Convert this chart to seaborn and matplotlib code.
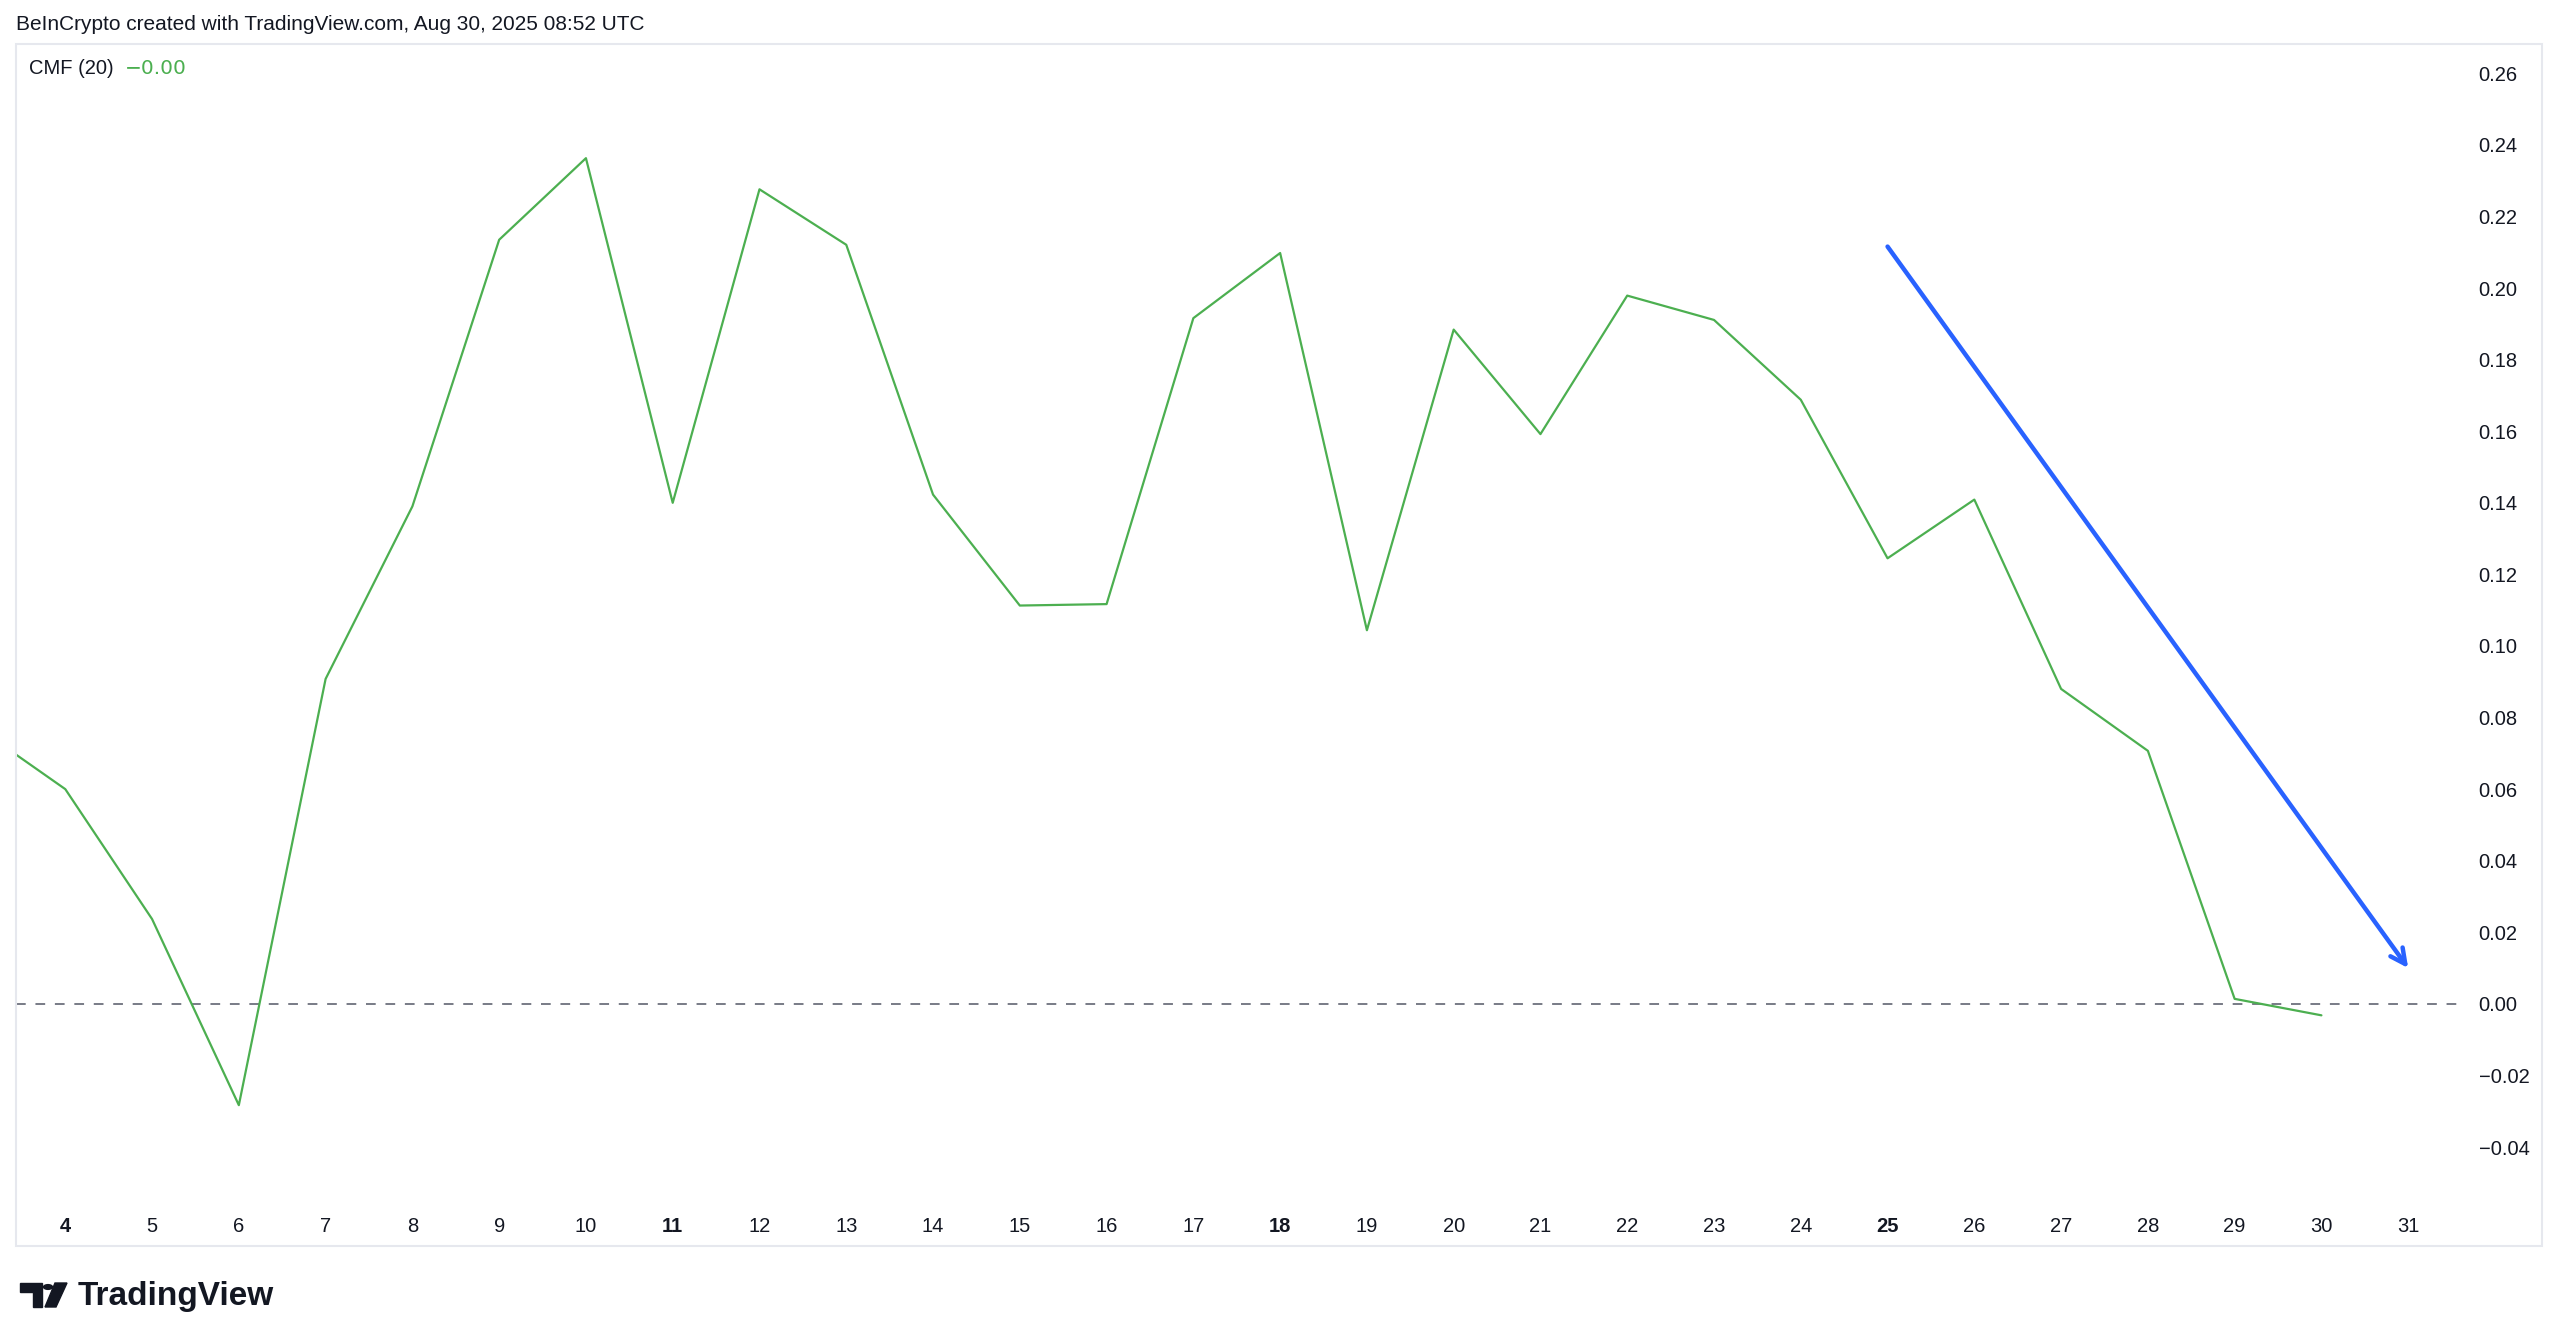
import matplotlib
matplotlib.use("Agg")
import matplotlib.pyplot as plt
import seaborn as sns
import pandas as pd
from matplotlib.patches import Rectangle, Circle, Polygon

# ── Data ────────────────────────────────────────────────────────────
days = [3, 4, 5, 6, 7, 8, 9, 10, 11, 12, 13, 14, 15, 16, 17, 18, 19,
        20, 21, 22, 23, 24, 25, 26, 27, 28, 29, 30]
cmf = [0.077, 0.060, 0.0237, -0.0283, 0.0908, 0.139, 0.2135, 0.2363,
       0.140, 0.2276, 0.2121, 0.1423, 0.1113, 0.1117, 0.1916, 0.2098,
       0.1044, 0.1884, 0.1592, 0.1979, 0.1911, 0.1688, 0.1245, 0.1409,
       0.0880, 0.0707, 0.0014, -0.0032]
tick_days = list(range(4, 32))
bold_days = [4, 11, 18, 25]
y_ticks = [-0.04, -0.02, 0.00, 0.02, 0.04, 0.06, 0.08, 0.10, 0.12,
           0.14, 0.16, 0.18, 0.20, 0.22, 0.24, 0.26]
arrow_start = (25, 0.2116)
arrow_end = (31, 0.010)

df = pd.DataFrame({"day": days, "cmf": cmf})

sns.set_theme(style="white")
plt.rcParams["font.family"] = ["Liberation Sans", "DejaVu Sans"]

W, H = 2560, 1342
fig = plt.figure(figsize=(W / 100, H / 100), dpi=100)
fig.patch.set_facecolor("white")

# plot area in pixel coordinates of the reference
left, right, top, bottom = 16, 2462, 44, 1200
ax = fig.add_axes([left / W, 1 - bottom / H, (right - left) / W, (bottom - top) / H])
ax.set_facecolor("white")
ax.grid(False)

ax.axhline(0, color="#787b86", lw=1.4, ls=(0, (5, 5)), zorder=1)

sns.lineplot(data=df, x="day", y="cmf", ax=ax, color="#4CAF50", lw=1.6, zorder=3)

ax.annotate("", xy=arrow_end, xytext=arrow_start,
            arrowprops=dict(arrowstyle="->,head_length=0.9,head_width=0.45",
                            color="#2962FF", lw=3.2, shrinkA=0, shrinkB=0),
            zorder=4)

ax.set_xlim(3.432, 31.62)
ax.set_ylim(-0.0548, 0.2682)
for s in ax.spines.values():
    s.set_visible(False)

ax.set_xlabel("")
ax.set_ylabel("")
ax.yaxis.tick_right()
ax.set_yticks(y_ticks)
ax.set_yticklabels([("\u2212%.2f" % -v) if v < 0 else "%.2f" % v for v in y_ticks],
                   fontsize=14.5, color="#131722")
ax.tick_params(axis="y", length=0, pad=12)
ax.set_xticks(tick_days)
ax.set_xticklabels([str(d) for d in tick_days], fontsize=14.5, color="#131722")
ax.tick_params(axis="x", length=0, pad=12)
for lab in ax.get_xticklabels():
    if int(lab.get_text()) in bold_days:
        lab.set_fontweight("bold")

# outer frame
fig.add_artist(Rectangle((16 / W, 1 - 1246 / H), (2542 - 16) / W, (1246 - 44) / H,
                         transform=fig.transFigure, fill=False,
                         edgecolor="#e6e8ee", lw=1.5))

# header texts
fig.text(16 / W, 1 - 25 / H, "BeInCrypto created with TradingView.com, Aug 30, 2025 08:52 UTC",
         fontsize=15, color="#131722", va="center", ha="left")
fig.text(29 / W, 1 - 69 / H, "CMF (20)", fontsize=14.5, color="#131722",
         va="center", ha="left")
fig.text(125 / W, 1 - 69 / H, "\u22120.00", fontsize=14.5, color="#4CAF50",
         va="center", ha="left", family=["DejaVu Sans"])

# TradingView logo
def px(x, y):
    return (x / W, 1 - y / H)

fig.add_artist(Polygon([px(20, 1283), px(42, 1283), px(42, 1307), px(33, 1307),
                        px(33, 1292), px(20, 1292)], closed=True,
                       transform=fig.transFigure, color="#131722"))
fig.add_artist(Circle(px(48, 1287), 4.5 / W, transform=fig.transFigure, color="#131722"))
fig.add_artist(Polygon([px(55, 1283), px(67, 1283), px(56, 1307), px(45, 1307)],
                       closed=True, transform=fig.transFigure, color="#131722"))
fig.text(78 / W, 1 - 1296 / H, "TradingView", fontsize=24, fontweight="bold",
         color="#131722", va="center", ha="left")

fig.savefig("out.png", dpi=100, facecolor="white")
